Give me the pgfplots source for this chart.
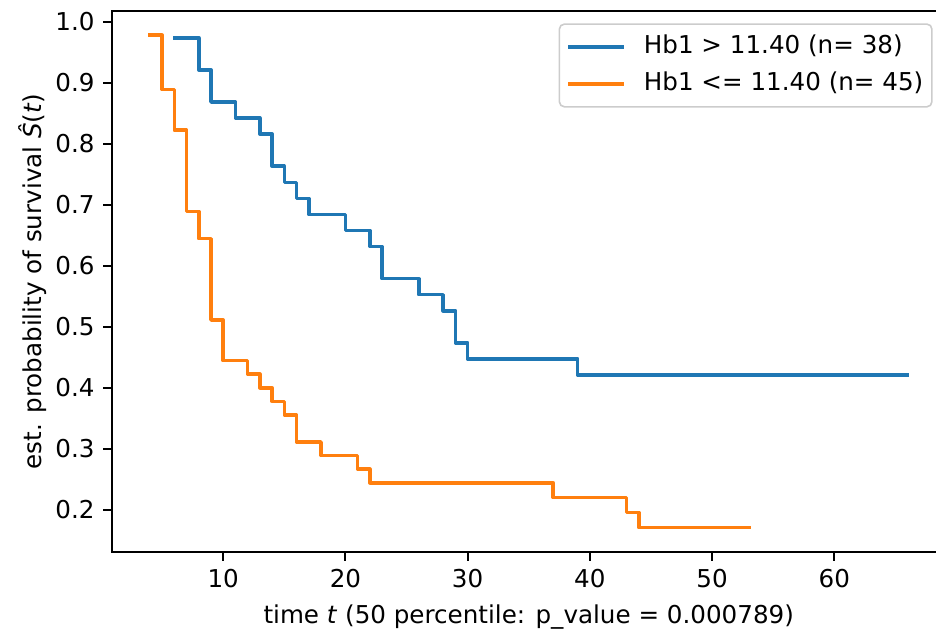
\documentclass[border=0pt]{standalone}
\usepackage{fontspec}
\setmainfont{DejaVu Sans}
\usepackage{pgfplots}
\pgfplotsset{compat=1.18}
\definecolor{tabblue}{HTML}{1F77B4}
\definecolor{taborange}{HTML}{FF7F0E}
\newcommand{\fs}{\fontsize{12.3}{14.8}\selectfont}
\begin{document}
\fs
\begin{tikzpicture}
\begin{axis}[
  scale only axis, width=416.75pt, height=270.65pt,
  xmin=0.9, xmax=69.1, ymin=0.1308, ymax=1.0181,
  xtick={10,20,30,40,50,60},
  ytick={0.2,0.3,0.4,0.5,0.6,0.7,0.8,0.9,1.0},
  yticklabel style={/pgf/number format/.cd, fixed, fixed zerofill, precision=1},
  /pgf/number format/assume math mode=true,
  tick label style={font=\fs},
  label style={font=\fs},
  tick pos=left, tick align=outside,
  major tick length=4.4pt,
  axis line style={line width=1pt},
  every tick/.style={line width=1pt, black},
  xlabel={time \textit{t} (50 percentile: p\_value = 0.000789)},
  ylabel={est. probability of survival \textit{Ŝ}(\textit{t})},
  ylabel shift=-4pt,
  legend cell align=left,
  legend image code/.code={\draw[#1, line width=1.8pt] (0pt,0pt) -- (26.3pt,0pt);},
  legend style={at={(axis description cs:0.98464,0.97672)}, anchor=north east,
    draw=black!20, line width=0.8pt, rounded corners=2.5pt, fill=white, fill opacity=0.8, text opacity=1,
    inner xsep=4.3pt, inner ysep=5.3pt, column sep=9.85pt, row sep=6.55pt,
    font=\fs,
    nodes={inner sep=0pt, text height=9.2pt, text depth=2.9pt}},
]
\addplot[tabblue, line width=1.8pt, const plot, line cap=rect, line join=round] coordinates {
(6,0.9737) (8,0.9211) (9,0.8684) (11,0.8421) (13,0.8158) (14,0.7632) (15,0.7368)
(16,0.7105) (17,0.6842) (20,0.6579) (22,0.6316) (23,0.5789) (26,0.5526) (28,0.5263)
(29,0.4737) (30,0.4474) (39,0.4211) (66,0.4211)
};
\addlegendentry{Hb1 > 11.40 (n= 38)}
\addplot[taborange, line width=1.8pt, const plot, line cap=rect, line join=round] coordinates {
(4,0.9778) (5,0.8889) (6,0.8222) (7,0.6889) (8,0.6444) (9,0.5111) (10,0.4444)
(12,0.4222) (13,0.4000) (14,0.3778) (15,0.3556) (16,0.3111) (18,0.2889) (21,0.2667)
(22,0.2444) (37,0.2200) (43,0.1956) (44,0.1711) (53,0.1711)
};
\addlegendentry{Hb1 <= 11.40 (n= 45)}
\end{axis}
\pgfresetboundingbox
\path[use as bounding box] (-56pt,-40pt) rectangle (412pt,276pt);
\end{tikzpicture}
\end{document}
